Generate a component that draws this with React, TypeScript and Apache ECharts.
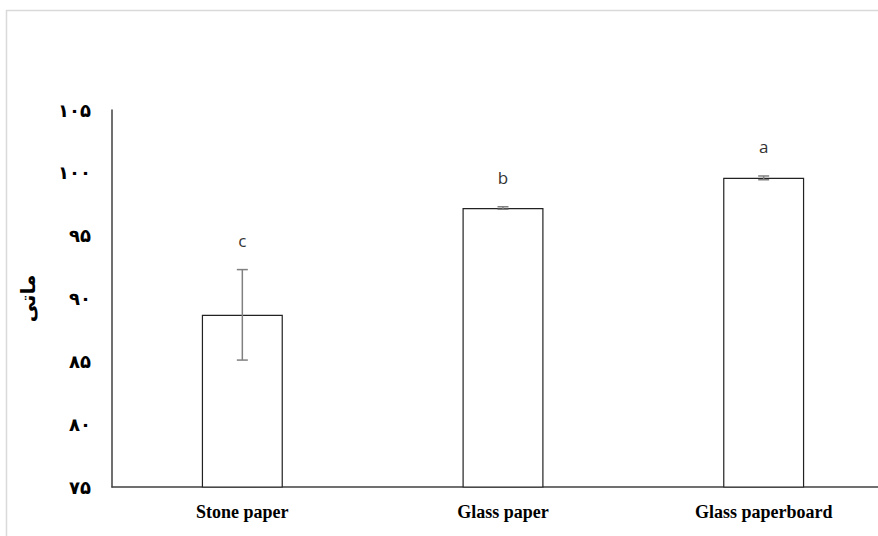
import React, { useEffect, useRef } from "react";
import * as echarts from "echarts";

const categories = ["Stone paper", "Glass paper", "Glass paperboard"];
const means = [88.7, 97.2, 99.6];
const errors = [3.6, 0.1, 0.15];
const letters = ["c", "b", "a"];
const yTicks = { min: 75, max: 105, step: 5 };
const yTitle = "ماتی";

const toPersian = (v: number) =>
  String(v).replace(/[0-9]/g, (d) => "۰۱۲۳۴۵۶۷۸۹"[Number(d)]);

export default function App() {
  const ref = useRef<HTMLDivElement>(null);
  useEffect(() => {
    document.body.style.margin = "0";
    document.body.style.overflow = "hidden";
    const chart = echarts.init(ref.current!, null, { renderer: "svg" });
    const errData = categories.map((_, i) => [
      i,
      means[i] - errors[i],
      means[i] + errors[i],
      letters[i],
    ]);
    chart.setOption({
      animation: false,
      backgroundColor: "#fff",
      graphic: [
        {
          type: "rect",
          left: 4,
          top: 8,
          shape: { width: 920, height: 600 },
          style: { fill: "none", stroke: "#d9d9d9", lineWidth: 1.5 },
          silent: true,
          z: -10,
        },
      ],
      grid: { left: 112, top: 110, bottom: 49, right: 0, containLabel: false },
      xAxis: {
        type: "category",
        data: categories,
        axisLine: { lineStyle: { color: "#404040", width: 1.5 } },
        axisTick: { show: false },
        axisLabel: {
          color: "#000",
          fontFamily: "Liberation Serif",
          fontWeight: "bold",
          fontSize: 18,
          margin: 16,
        },
      },
      yAxis: {
        type: "value",
        min: yTicks.min,
        max: yTicks.max,
        interval: yTicks.step,
        splitLine: { show: false },
        axisTick: { show: false },
        axisLine: { show: true, lineStyle: { color: "#404040", width: 1.5 } },
        axisLabel: {
          color: "#000",
          fontFamily: "DejaVu Sans",
          fontWeight: "bold",
          fontSize: 18,
          margin: 21,
          formatter: (v: number) => toPersian(v),
        },
        name: yTitle,
        nameLocation: "middle",
        nameRotate: 90,
        nameGap: 74,
        nameTextStyle: {
          color: "#000",
          fontFamily: "DejaVu Sans",
          fontWeight: "bold",
          fontSize: 20,
        },
      },
      series: [
        {
          type: "bar",
          data: means,
          barWidth: 81,
          itemStyle: { color: "#fff", borderColor: "#222", borderWidth: 1.2 },
          z: 2,
        },
        {
          type: "custom",
          data: errData,
          z: 5,
          renderItem: (params: any, api: any) => {
            const x = api.value(0);
            const lo = api.coord([x, api.value(1)]);
            const hi = api.coord([x, api.value(2)]);
            const cap = 5.5;
            const style = { stroke: "#808080", lineWidth: 1.5 };
            return {
              type: "group",
              children: [
                { type: "line", shape: { x1: lo[0], y1: lo[1], x2: hi[0], y2: hi[1] }, style },
                { type: "line", shape: { x1: hi[0] - cap, y1: hi[1], x2: hi[0] + cap, y2: hi[1] }, style },
                { type: "line", shape: { x1: lo[0] - cap, y1: lo[1], x2: lo[0] + cap, y2: lo[1] }, style },
                {
                  type: "text",
                  x: hi[0],
                  y: hi[1] - 21,
                  style: {
                    text: letters[params.dataIndex],
                    fill: "#333",
                    font: "17px 'Open Sans'",
                    align: "center",
                    verticalAlign: "bottom",
                  },
                },
              ],
            };
          },
        },
      ],
    });
    return () => chart.dispose();
  }, []);
  return (
    <div style={{ width: 878, height: 536, overflow: "hidden" }}>
      <div ref={ref} style={{ width: 894, height: 536 }} />
    </div>
  );
}
